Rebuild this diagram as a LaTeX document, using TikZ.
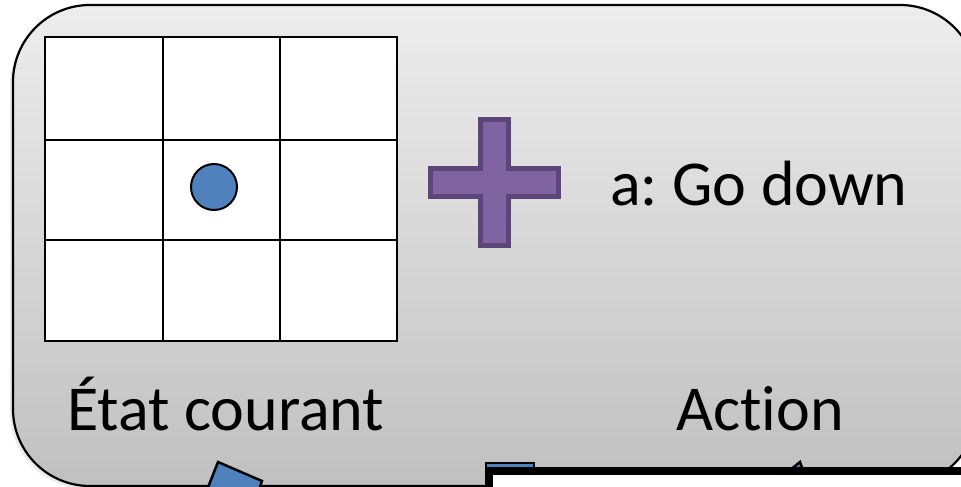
\documentclass[tikz,border=0pt]{standalone}
\usepackage{fontspec}
\setmainfont{Carlito}[Ligatures=NoCommon]
\definecolor{cellblue}{HTML}{4F81BD}
\definecolor{plusfill}{HTML}{8064A2}
\definecolor{plusline}{HTML}{5C4679}
\definecolor{toptone}{HTML}{EDEDED}
\definecolor{bottone}{HTML}{C0C0C0}
\tikzset{
  gridline/.style={line width=2pt, black},
  bigtext/.style={font=\fontsize{64}{76}\selectfont\frenchspacing, inner sep=0pt, anchor=base west},
  blueshape/.style={fill=cellblue, draw=black, line width=2.5pt, line join=miter},
}
\begin{document}
\begin{tikzpicture}[x=1pt,y=-1pt]
\useasboundingbox (0,0) rectangle (961,487);
\fill[white] (0,0) rectangle (961,487);
\begin{scope}
\clip (0,0) rectangle (961,487);
% shadow
\fill[black, opacity=0.08, rounded corners=77pt] (10,8) rectangle (975,489);
% main rounded panel
\shade[top color=toptone, bottom color=bottone, rounded corners=77pt] (13,5) rectangle (977,486);
\draw[line width=2.2pt, rounded corners=77pt] (13,5) rectangle (977,486);
% grid
\fill[white] (45,37) rectangle (397,341);
\draw[gridline] (45,37) rectangle (397,341);
\draw[gridline] (163,37) -- (163,341);
\draw[gridline] (280,37) -- (280,341);
\draw[gridline] (45,140) -- (397,140);
\draw[gridline] (45,240) -- (397,240);
\node[circle, fill=cellblue, draw=black, line width=2pt, minimum size=46pt, inner sep=0pt] (agent) at (214,187) {};
% plus sign
\draw[fill=plusfill, draw=plusline, line width=5pt, line join=miter]
  (480,119) -- (508,119) -- (508,168) -- (558,168) -- (558,196) -- (508,196)
  -- (508,245) -- (480,245) -- (480,196) -- (430,196) -- (430,168) -- (480,168) -- cycle;
% texts
\node[bigtext] (act) at (610,205) {a: Go down};
\node[bigtext] (etat) at (67,430) {État courant};
\node[bigtext] (action) at (676,430) {Action};
% partial shapes at bottom
\draw[blueshape] (207,490) -- (218,462) -- (262,481) -- (259,490) -- cycle;
\draw[blueshape] (486,463) rectangle (534,485);
\draw[blueshape] (780,478) -- (800,462) -- (806,478) -- cycle;
\draw[fill=white, draw=black, line width=8pt] (489,471) rectangle (1000,520);
\end{scope}
\end{tikzpicture}
\end{document}
